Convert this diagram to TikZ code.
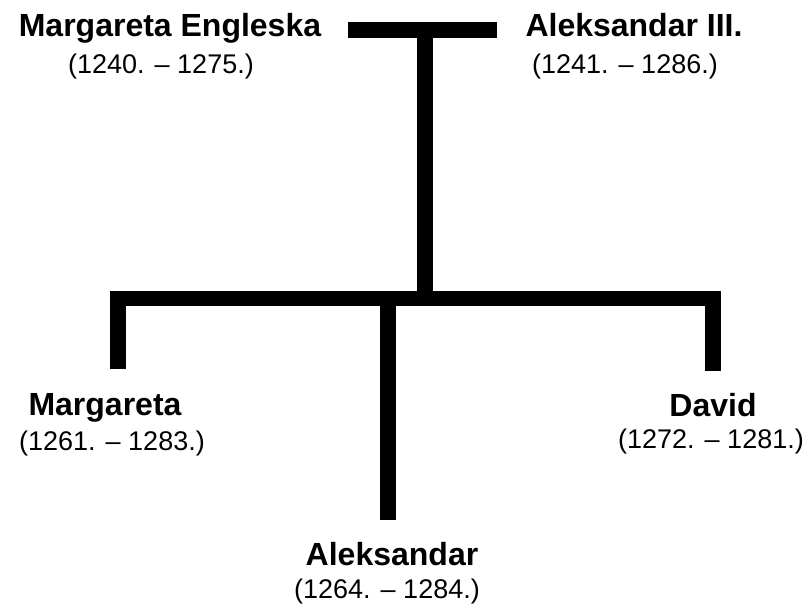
\documentclass[tikz,border=0pt]{standalone}
\usepackage{fontspec}
\setmainfont{Liberation Sans}
\tikzset{
  person/.style={font=\fontsize{32}{36}\selectfont\bfseries, inner sep=0pt, anchor=base},
  years/.style={font=\fontsize{27}{30}\selectfont, inner sep=0pt, anchor=base},
  branch/.style={line width=15.5pt, black, line join=miter},
}
\begin{document}
\begin{tikzpicture}[x=1pt,y=-1pt]
    \useasboundingbox (0,0) rectangle (810,610);
    \coordinate (WeddingLeft)    at (348,30);
    \coordinate (WeddingRight)   at (497,30);
    \coordinate (WeddingMid)     at (425,30);
    \coordinate (ChildrenMid)    at (425,298.5);
    \coordinate (ChildrenLeft)   at (118,298.5);
    \coordinate (ChildrenRight)  at (713,298.5);
    \coordinate (MargaretaEnd)   at (118,369);
    \coordinate (DavidEnd)       at (713,371);
    \coordinate (AleksandarJoin) at (388,298.5);
    \coordinate (AleksandarEnd)  at (388,520);
    \draw [branch] (WeddingLeft) -- (WeddingRight);% Draw marriage bar
    \draw [branch] (WeddingMid) -- (ChildrenMid);% Draw trunk
    \draw [branch] (MargaretaEnd) -- (ChildrenLeft) -- (ChildrenRight) -- (DavidEnd);% Draw children bar
    \draw [branch] (AleksandarJoin) -- (AleksandarEnd);% Draw middle child

    \node [person] (MargaretaEngleska)  at (170,37) {Margareta Engleska};
    \node [years]  (MargaretaEngleskaY) at (161,74) {(1240. – 1275.)};
    \node [person] (AleksandarIII)      at (634,37) {Aleksandar III.};
    \node [years]  (AleksandarIIIY)     at (625,74) {(1241. – 1286.)};

    \node [person] (Margareta)  at (105,415) {Margareta};
    \node [years]  (MargaretaY) at (112,450) {(1261. – 1283.)};
    \node [person] (David)      at (713,416) {David};
    \node [years]  (DavidY)     at (711,448) {(1272. – 1281.)};
    \node [person] (Aleksandar)  at (392,565) {Aleksandar};
    \node [years]  (AleksandarY) at (387,598) {(1264. – 1284.)};
  \end{tikzpicture}
\end{document}
